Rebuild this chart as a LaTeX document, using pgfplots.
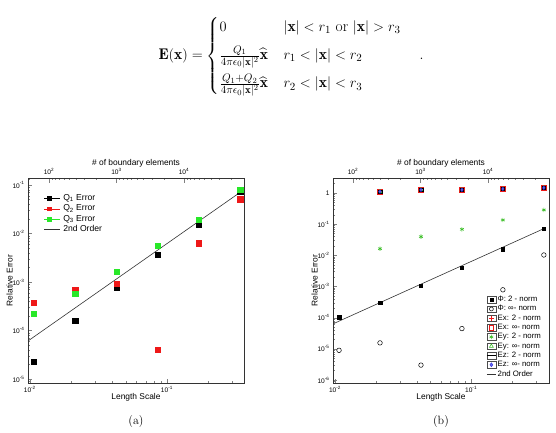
\documentclass[border=0pt]{standalone}
\usepackage{amsmath}
\usepackage{fontspec}
\usepackage{pgfplots}
\pgfplotsset{compat=1.18}
\newfontfamily\arial{Liberation Sans}
\newcommand\plotfont{\arial\fontsize{6.6}{7.5}\selectfont}
\newcommand\labelfont{\arial\fontsize{8.4}{9.5}\selectfont}
\definecolor{qred}{RGB}{238,24,24}
\definecolor{qgreen}{RGB}{40,232,40}
\definecolor{qblue}{RGB}{40,40,225}
\definecolor{eygreen}{RGB}{60,190,40}

\begin{document}
\begin{tikzpicture}
\path[use as bounding box] (0pt,0pt) rectangle (556pt,-433pt);

% field of the two charged shells
\node[font=\fontsize{15.5}{18.6}\selectfont] at (291pt,-56pt)
{$\mathbf{E}(\mathbf{x})=\begin{cases}
 0 & |\mathbf{x}|<r_1 \text{ or } |\mathbf{x}|>r_3\\[6pt]
 \frac{Q_1}{4\pi\epsilon_0|\mathbf{x}|^2}\widehat{\mathbf{x}} & r_1<|\mathbf{x}|<r_2\\[6pt]
 \frac{Q_1+Q_2}{4\pi\epsilon_0|\mathbf{x}|^2}\widehat{\mathbf{x}} & r_2<|\mathbf{x}|<r_3
\end{cases}\quad .$};

% ---------------- (a) charge errors ----------------
\begin{axis}[at={(28pt,-383pt)}, anchor=south west,
  scale only axis, width=216pt, height=205pt,
  xmode=log, ymode=log,
  xmin=0.0097, xmax=0.365, ymin=8.3e-6, ymax=0.139,
  tick pos=left, tick align=inside,
  axis line style={black!80, line width=0.9pt},
  major tick length=4.5pt, minor tick length=2.5pt,
  tick label style={font=\plotfont}, label style={font=\labelfont},
  xtick={0.01,0.1}, xticklabels={10\textsuperscript{-2},10\textsuperscript{-1}},
  minor xtick={0.02,0.03,0.04,0.05,0.06,0.07,0.08,0.09,0.2,0.3},
  ytick={1e-5,1e-4,1e-3,1e-2,1e-1},
  yticklabels={10\textsuperscript{-5},10\textsuperscript{-4},10\textsuperscript{-3},10\textsuperscript{-2},10\textsuperscript{-1}},
  minor ytick={9e-6,
    2e-5,3e-5,4e-5,5e-5,6e-5,7e-5,8e-5,9e-5,
    2e-4,3e-4,4e-4,5e-4,6e-4,7e-4,8e-4,9e-4,
    2e-3,3e-3,4e-3,5e-3,6e-3,7e-3,8e-3,9e-3,
    2e-2,3e-2,4e-2,5e-2,6e-2,7e-2,8e-2,9e-2},
  xlabel={Length Scale}, ylabel={Relative Error},
  xlabel style={at={(axis description cs:0.5,-0.068)}, anchor=center},
  ylabel style={at={(axis description cs:-0.085,0.5)}, anchor=center},
  legend style={at={(axis description cs:0.074,0.928)}, anchor=north west,
    draw=none, fill=none, inner sep=0pt, row sep=0pt,
    font=\arial\fontsize{8.6}{9}\selectfont,
    nodes={text height=6pt, text depth=1.5pt, inner ysep=1.5pt, inner xsep=2.5pt}},
  legend cell align=left,
]
\addplot[only marks, mark=square*, mark size=2.6pt, black,
  legend image code/.code={\path (0pt,0pt) -- (16pt,0pt);
    \draw[black] plot[mark=square*,mark size=1.9pt] coordinates {(5pt,0pt)};}] coordinates {
  (0.0107,2.3e-5) (0.0214,1.6e-4) (0.0428,7.8e-4) (0.0856,3.66e-3) (0.1712,1.5e-2) (0.3424,7.2e-2)};
\addlegendentry{Q\textsubscript{1} Error}
\addplot[only marks, mark=square*, mark size=2.6pt, qred,
  legend image code/.code={\path (0pt,0pt) -- (16pt,0pt);
    \draw[qred] plot[mark=square*,mark size=1.9pt] coordinates {(5pt,0pt)};}] coordinates {
  (0.0107,3.8e-4) (0.0214,6.8e-4) (0.0428,9.4e-4) (0.0856,3.96e-5) (0.1712,6.3e-3) (0.3424,5.1e-2)};
\addlegendentry{Q\textsubscript{2} Error}
\addplot[only marks, mark=square*, mark size=2.6pt, qgreen,
  legend image code/.code={\path (0pt,0pt) -- (16pt,0pt);
    \draw[qgreen] plot[mark=square*,mark size=1.9pt] coordinates {(5pt,0pt)};}] coordinates {
  (0.0107,2.2e-4) (0.0214,5.75e-4) (0.0428,1.63e-3) (0.0856,5.5e-3) (0.1712,1.9e-2) (0.3424,8.1e-2)};
\addlegendentry{Q\textsubscript{3} Error}
\addplot[black!80, line width=0.6pt, mark=none,
  legend image code/.code={\draw[black!80,line width=0.6pt] (0pt,0pt) -- (16pt,0pt);}]
  coordinates {(0.0097,6.1e-5) (0.3424,7.06e-2)};
\addlegendentry{2nd Order}
\end{axis}
% element count along the top
\begin{axis}[at={(28pt,-383pt)}, anchor=south west,
  scale only axis, width=216pt, height=205pt,
  xmode=log, xmin=48.9, xmax=77400, ymin=0, ymax=1,
  axis x line*=top, axis y line=none, tick align=inside,
  axis line style={black!80, line width=0.9pt},
  major tick length=4.5pt, minor tick length=2.5pt,
  tick label style={font=\plotfont}, label style={font=\labelfont},
  xtick={100,1000,10000},
  xticklabels={10\textsuperscript{2},10\textsuperscript{3},10\textsuperscript{4}},
  minor xtick={50,111.1,125,142.9,166.7,200,250,333.3,500,
    1111,1250,1428.6,1666.7,2000,2500,3333,5000,
    11111,12500,14286,16667,20000,25000,33333,50000},
  xlabel={\# of boundary elements},
  xlabel style={at={(axis description cs:0.5,1.073)}, anchor=center},
]
\end{axis}

% ---------------- (b) potential and field errors ----------------
\begin{axis}[at={(333pt,-383pt)}, anchor=south west,
  scale only axis, width=216pt, height=205pt,
  xmode=log, ymode=log,
  xmin=0.00966, xmax=0.3736, ymin=0.8e-6, ymax=3,
  tick pos=left, tick align=inside,
  axis line style={black!80, line width=0.9pt},
  major tick length=4.5pt, minor tick length=2.5pt,
  tick label style={font=\plotfont}, label style={font=\labelfont},
  xtick={0.01,0.1}, xticklabels={10\textsuperscript{-2},10\textsuperscript{-1}},
  minor xtick={0.02,0.03,0.04,0.05,0.06,0.07,0.08,0.09,0.2,0.3},
  ytick={1e-6,1e-5,1e-4,1e-3,1e-2,1e-1,1},
  yticklabels={10\textsuperscript{-6},10\textsuperscript{-5},10\textsuperscript{-4},10\textsuperscript{-3},10\textsuperscript{-2},10\textsuperscript{-1},1},
  minor ytick={9e-7,
    2e-6,3e-6,4e-6,5e-6,6e-6,7e-6,8e-6,9e-6,
    2e-5,3e-5,4e-5,5e-5,6e-5,7e-5,8e-5,9e-5,
    2e-4,3e-4,4e-4,5e-4,6e-4,7e-4,8e-4,9e-4,
    2e-3,3e-3,4e-3,5e-3,6e-3,7e-3,8e-3,9e-3,
    2e-2,3e-2,4e-2,5e-2,6e-2,7e-2,8e-2,9e-2,
    0.2,0.3,0.4,0.5,0.6,0.7,0.8,0.9,2},
  xlabel={Length Scale}, ylabel={Relative Error},
  xlabel style={at={(axis description cs:0.5,-0.068)}, anchor=center},
  ylabel style={at={(axis description cs:-0.085,0.5)}, anchor=center},
  legend style={at={(axis description cs:0.71,0.43)}, anchor=north west,
    draw=none, fill=none, inner sep=0pt, row sep=0pt,
    font=\arial\fontsize{7.8}{8}\selectfont,
    nodes={text height=5.5pt, text depth=1.6pt, inner ysep=1.1pt, inner xsep=1.5pt}},
  legend cell align=left,
]
\addplot[only marks, mark=square*, mark size=1.7pt, black,
  legend image code/.code={\draw[black!70,line width=0.4pt] (-1pt,-3.3pt) rectangle (8pt,3.3pt);
    \draw[black] plot[mark=square*,mark size=1.6pt] coordinates {(3.5pt,0pt)};}] coordinates {
  (0.0107,1.03e-4) (0.0214,3.05e-4) (0.0428,1.05e-3) (0.0856,4.07e-3) (0.1712,1.58e-2) (0.3424,7.13e-2)};
\addlegendentry{Φ: 2 - norm}
\addplot[only marks, mark=o, mark size=2.3pt, black, line width=0.5pt,
  legend image code/.code={\draw[black!70,line width=0.4pt] (-1pt,-3.3pt) rectangle (8pt,3.3pt);
    \draw[black,line width=0.5pt] plot[mark=o,mark size=2pt] coordinates {(3.5pt,0pt)};}] coordinates {
  (0.0107,8.95e-6) (0.0214,1.55e-5) (0.0428,3.0e-6) (0.0856,4.45e-5) (0.1712,7.8e-4) (0.3424,1.02e-2)};
\addlegendentry{Φ: ∞- norm}
\addplot[only marks, mark=+, mark size=2.4pt, qred, line width=0.6pt,
  legend image code/.code={\draw[black!70,line width=0.4pt] (-1pt,-3.3pt) rectangle (8pt,3.3pt);
    \draw[qred,line width=0.6pt] plot[mark=+,mark size=2.4pt] coordinates {(3.5pt,0pt)};}] coordinates {
  (0.0214,1.1) (0.0428,1.25) (0.0856,1.25) (0.1712,1.34) (0.3424,1.45)};
\addlegendentry{Ex: 2 - norm}
\addplot[only marks, mark=square, mark size=2.4pt, qred, line width=0.6pt,
  legend image code/.code={\draw[black!70,line width=0.4pt] (-1pt,-3.3pt) rectangle (8pt,3.3pt);
    \draw[qred,line width=0.6pt] plot[mark=square,mark size=2.2pt] coordinates {(3.5pt,0pt)};}] coordinates {
  (0.0214,1.1) (0.0428,1.25) (0.0856,1.25) (0.1712,1.34) (0.3424,1.45)};
\addlegendentry{Ex: ∞- norm}
\addplot[only marks, mark=asterisk, mark size=2.2pt, eygreen, line width=0.6pt,
  legend image code/.code={\draw[black!70,line width=0.4pt] (-1pt,-3.3pt) rectangle (8pt,3.3pt);
    \draw[eygreen,line width=0.6pt] plot[mark=asterisk,mark size=2.2pt] coordinates {(3.5pt,0pt)};}] coordinates {
  (0.0214,1.62e-2) (0.0428,3.94e-2) (0.0856,6.79e-2) (0.1712,0.135) (0.3424,0.284)};
\addlegendentry{Ey: 2 - norm}
\addplot[only marks, mark=triangle, mark size=2.2pt, eygreen, line width=0.6pt,
  legend image code/.code={\draw[black!70,line width=0.4pt] (-1pt,-3.3pt) rectangle (8pt,3.3pt);
    \draw[eygreen,line width=0.6pt] plot[mark=triangle,mark size=2.2pt] coordinates {(3.5pt,0pt)};}] coordinates {
  (0.0214,1.1) (0.0428,1.25) (0.0856,1.25) (0.1712,1.34) (0.3424,1.45)};
\addlegendentry{Ey: ∞- norm}
\addplot[only marks, mark=square, mark size=1.8pt, black, line width=0.5pt,
  legend image code/.code={\draw[black!70,line width=0.4pt] (-1pt,-3.3pt) rectangle (8pt,3.3pt);
    \draw[black,line width=0.5pt] (-1pt,0pt) -- (8pt,0pt);}] coordinates {
  (0.0214,1.1) (0.0428,1.25) (0.0856,1.25) (0.1712,1.34) (0.3424,1.45)};
\addlegendentry{Ez: 2 - norm}
\addplot[only marks, mark=diamond*, mark size=1.8pt, qblue, mark options={fill=qblue!70},
  legend image code/.code={\draw[black!70,line width=0.4pt] (-1pt,-3.3pt) rectangle (8pt,3.3pt);
    \draw[qblue,fill=qblue!70] plot[mark=diamond*,mark size=2pt] coordinates {(3.5pt,0pt)};}] coordinates {
  (0.0214,1.1) (0.0428,1.25) (0.0856,1.25) (0.1712,1.34) (0.3424,1.45)};
\addlegendentry{Ez: ∞- norm}
\addplot[black!80, line width=0.6pt, mark=none,
  legend image code/.code={\draw[black!80,line width=0.6pt] (-1pt,0pt) -- (8pt,0pt);}]
  coordinates {(0.00966,6.3e-5) (0.3424,7.13e-2)};
\addlegendentry{2nd Order}
\end{axis}
% element count along the top
\begin{axis}[at={(333pt,-383pt)}, anchor=south west,
  scale only axis, width=216pt, height=205pt,
  xmode=log, xmin=50.6, xmax=80200, ymin=0, ymax=1,
  axis x line*=top, axis y line=none, tick align=inside,
  axis line style={black!80, line width=0.9pt},
  major tick length=4.5pt, minor tick length=2.5pt,
  tick label style={font=\plotfont}, label style={font=\labelfont},
  xtick={100,1000,10000},
  xticklabels={10\textsuperscript{2},10\textsuperscript{3},10\textsuperscript{4}},
  minor xtick={111.1,125,142.9,166.7,200,250,333.3,500,
    1111,1250,1428.6,1666.7,2000,2500,3333,5000,
    11111,12500,14286,16667,20000,25000,33333,50000},
  xlabel={\# of boundary elements},
  xlabel style={at={(axis description cs:0.5,1.073)}, anchor=center},
]
\end{axis}

% sub-figure captions
\node[font=\fontsize{12}{14.4}\selectfont] at (136pt,-422pt) {(a)};
\node[font=\fontsize{12}{14.4}\selectfont] at (441pt,-422pt) {(b)};
\end{tikzpicture}
\end{document}
